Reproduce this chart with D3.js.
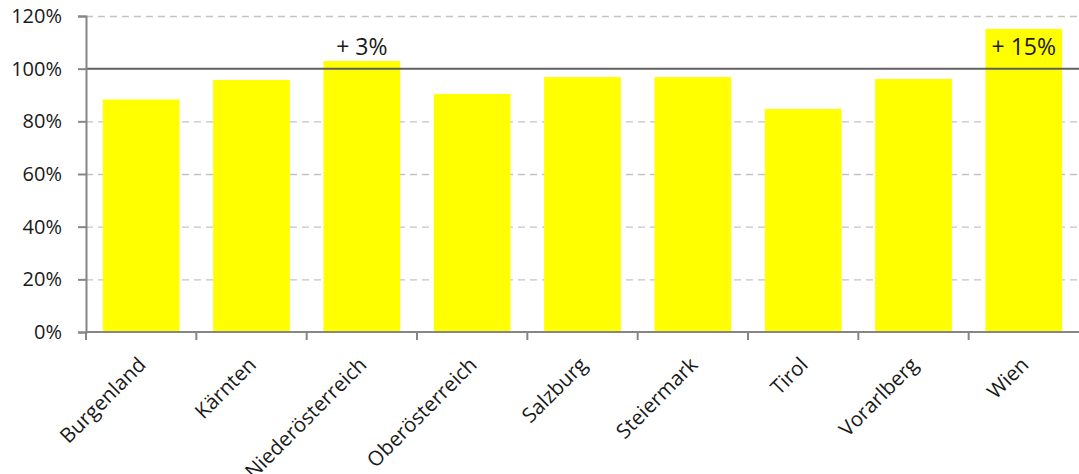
<!DOCTYPE html>
<html>
<head>
<meta charset="utf-8">
<script src="https://cdn.jsdelivr.net/npm/d3@7"></script>
<style>
  body { margin: 0; background: #fff; }
  text { font-family: "Open Sans", "Liberation Sans", Arial, sans-serif; fill: #1a1a1a; }
</style>
</head>
<body>
<svg id="chart" width="1079" height="474"></svg>
<script>
// data
const regions = ['Burgenland', 'Kärnten', 'Niederösterreich', 'Oberösterreich', 'Salzburg', 'Steiermark', 'Tirol', 'Vorarlberg', 'Wien'];
const shares = [88.3, 95.7, 102.9, 90.4, 96.8, 96.8, 84.7, 96.1, 115.1];
const yTicks = [0, 20, 40, 60, 80, 100, 120];
const notes = [
  {region: 'Niederösterreich', label: '+ 3%', inside: false},
  {region: 'Wien', label: '+ 15%', inside: true}
];

const data = regions.map((r, i) => ({region: r, value: shares[i]}));

const width = 1079, height = 474;
const margin = {top: 16, right: 0, bottom: 142, left: 86};
const font = '"Open Sans", "Liberation Sans", Arial, sans-serif';

const svg = d3.select('#chart');

const x = d3.scaleBand()
  .domain(regions)
  .range([margin.left, width - margin.right])
  .paddingInner(0.305)
  .paddingOuter(0.1525);

const y = d3.scaleLinear()
  .domain([0, 120])
  .range([height - margin.bottom, margin.top]);

// dashed grid (behind the bars)
svg.append('g')
  .selectAll('line')
  .data(yTicks.filter(t => t !== 0 && t !== 100))
  .join('line')
    .attr('x1', margin.left)
    .attr('x2', width - margin.right)
    .attr('y1', d => y(d) + 0.5)
    .attr('y2', d => y(d) + 0.5)
    .attr('stroke', '#c3c3c3')
    .attr('stroke-width', 1.3)
    .attr('stroke-dasharray', '7,5');

// bars
svg.append('g')
  .selectAll('rect')
  .data(data)
  .join('rect')
    .attr('x', d => x(d.region))
    .attr('y', d => y(d.value))
    .attr('width', x.bandwidth())
    .attr('height', d => y(0) - y(d.value))
    .attr('fill', '#ffff00');

// 100% reference line on top of the bars
svg.append('line')
  .attr('x1', margin.left)
  .attr('x2', width - margin.right)
  .attr('y1', y(100))
  .attr('y2', y(100))
  .attr('stroke', '#5f5f5f')
  .attr('stroke-width', 2);

// y axis
const yAxis = svg.append('g')
  .attr('transform', `translate(${margin.left},0)`)
  .call(d3.axisLeft(y).tickValues(yTicks).tickFormat(d => d + '%').tickSize(8).tickPadding(16));
yAxis.select('.domain').attr('stroke', '#868686').attr('stroke-width', 2);
yAxis.selectAll('.tick line').attr('stroke', '#868686').attr('stroke-width', 2);
yAxis.selectAll('.tick text').attr('font-size', 20).attr('fill', '#1a1a1a')
  .style('font-family', font);

// x axis: ticks on the band edges
const xAxisG = svg.append('g')
  .attr('transform', `translate(0,${y(0)})`);
xAxisG.append('line')
  .attr('x1', margin.left)
  .attr('x2', width - margin.right)
  .attr('stroke', '#868686')
  .attr('stroke-width', 2);
const step = x.step();
const edges = d3.range(regions.length).map(i => margin.left + i * step);
xAxisG.selectAll('.edge')
  .data(edges)
  .join('line')
    .attr('class', 'edge')
    .attr('x1', d => d)
    .attr('x2', d => d)
    .attr('y1', 0)
    .attr('y2', 8)
    .attr('stroke', '#868686')
    .attr('stroke-width', 2);

xAxisG.selectAll('text')
  .data(regions)
  .join('text')
    .attr('text-anchor', 'end')
    .attr('font-size', 20.5)
    .attr('transform', d => `translate(${x(d) + x.bandwidth() / 2 + 6},${34}) rotate(-45)`)
    .text(d => d);

// annotations
svg.append('g')
  .selectAll('text')
  .data(notes)
  .join('text')
    .attr('text-anchor', 'middle')
    .attr('font-size', 23)
    .attr('x', d => x(d.region) + x.bandwidth() / 2)
    .attr('y', d => {
      const v = shares[regions.indexOf(d.region)];
      return d.inside ? y(v) + 26 : y(v) - 6;
    })
    .text(d => d.label);
</script>
</body>
</html>
